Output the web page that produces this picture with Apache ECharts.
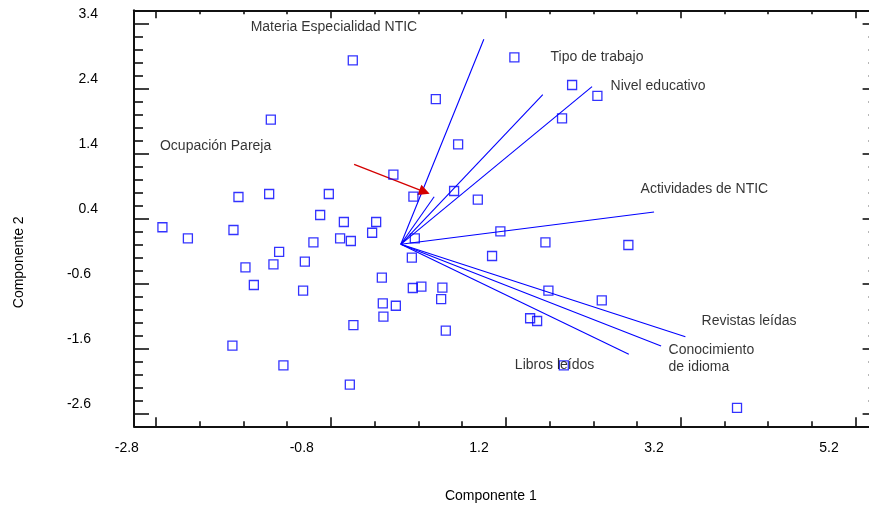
<!DOCTYPE html>
<html>
<head>
<meta charset="utf-8">
<script src="https://cdn.jsdelivr.net/npm/echarts@6/dist/echarts.min.js"></script>
<style>
  html, body { margin: 0; padding: 0; background: #ffffff; }
  #chart { width: 869px; height: 506px; }
</style>
</head>
<body>
<div id="chart"></div>
<script>
// Case scores on the first two principal components
const scoreX = [-0.549, 1.298, 1.958, 2.247, 0.400, -1.486, 1.843, 0.655, -0.085, -1.856,
  -1.505, -0.823, 0.144, 0.609, 0.880, -0.922, -0.651, -0.282, -2.725, -1.913,
  -2.434, -0.694, -0.571, -0.328, 0.160, 1.138, 1.653, 2.601, -0.999, -1.391,
  0.126, 1.043, -1.776, -1.456, -1.097, -0.217, -1.680, -1.117, 0.137, 0.235,
  0.475, 0.461, -0.057, -0.206, -0.199, 1.687, 2.297, -0.542, 1.478, 1.558,
  0.514, -1.925, -1.342, 1.863, -0.583, 3.843];
const scoreY = [2.831, 2.877, 2.451, 2.282, 2.235, 1.917, 1.938, 1.538, 1.071, 0.728,
  0.774, 0.774, 0.732, 0.820, 0.686, 0.451, 0.343, 0.343, 0.262, 0.220,
  0.092, 0.092, 0.051, 0.178, 0.092, 0.200, 0.031, -0.011, 0.031, -0.118,
  -0.206, -0.180, -0.354, -0.308, -0.268, -0.514, -0.626, -0.714, -0.672, -0.652,
  -0.668, -0.842, -0.945, -0.908, -1.114, -0.714, -0.862, -1.242, -1.138, -1.180,
  -1.329, -1.560, -1.862, -1.862, -2.160, -2.518];

// Variables and the tips of their loading vectors
const varNames = ['Materia Especialidad NTIC', 'Tipo de trabajo', 'Nivel educativo',
  'Ocupación Pareja', 'Actividades de NTIC', 'Revistas leídas',
  'Conocimiento\nde idioma', 'Libros leídos'];
const loadX = [0.949, 1.623, 2.186, 0.381, 2.895, 3.253, 2.975, 2.606];
const loadY = [3.154, 2.302, 2.425, 0.732, 0.497, -1.422, -1.565, -1.692];

// Axis tick values
const xTicks = [-2.8, -0.8, 1.2, 3.2, 5.2];
const yTicks = [-2.6, -1.6, -0.6, 0.4, 1.4, 2.4, 3.4];

// Highlight arrow pointing at the short vector
const arrowFrom = [-0.534, 1.231];
const arrowTo = [0.271, 0.808];

// Where each variable name is written (left / middle of the text)
const labelAnchor = [[-1.722, 3.343], [1.706, 2.886], [2.392, 2.435], [-2.759, 1.517],
  [2.735, 0.846], [3.432, -1.175], [3.055, -1.754], [1.298, -1.857]];

const X_MIN = -3.05, X_MAX = 5.45;
const Y_MIN = -2.8, Y_MAX = 3.6;
const INK = '#111111';
const TEXT = '#000000';
const FONT = "'Liberation Sans', Arial, sans-serif";

function minorValues(majors, step, min, max) {
  const out = [];
  const start = majors[0];
  let k = -Math.floor((start - min) / step) - 1;
  for (;; k++) {
    const v = +(start + k * step).toFixed(4);
    if (v > max) break;
    if (v <= min + 1e-6 || v >= max - 1e-6) continue;
    if (majors.some(m => Math.abs(m - v) < 1e-6)) continue;
    out.push(v);
  }
  return out;
}
const xMinor = minorValues(xTicks, 0.5, X_MIN, X_MAX);
const yMinor = minorValues(yTicks, 0.2, Y_MIN, Y_MAX);

function fmt(v) { return v.toFixed(1); }

function xAx(position, ticks, len, showLine, extra) {
  return Object.assign({
    type: 'value', position: position, min: X_MIN, max: X_MAX,
    splitLine: { show: false },
    axisLine: { show: showLine, onZero: false, lineStyle: { color: INK, width: 2 } },
    axisTick: { show: true, inside: true, length: len, customValues: ticks,
      lineStyle: { color: INK, width: 1.6 } },
    axisLabel: { show: false }
  }, extra || {});
}
function yAx(position, ticks, len, showLine, extra) {
  return Object.assign({
    type: 'value', position: position, min: Y_MIN, max: Y_MAX,
    splitLine: { show: false },
    axisLine: { show: showLine, onZero: false, lineStyle: { color: INK, width: 2 } },
    axisTick: { show: true, inside: true, length: len, customValues: ticks,
      lineStyle: { color: INK, width: 1.6 } },
    axisLabel: { show: false }
  }, extra || {});
}

const chart = echarts.init(document.getElementById('chart'), null, { renderer: 'canvas' });

const option = {
  animation: false,
  backgroundColor: '#ffffff',
  textStyle: { fontFamily: FONT },
  grid: { left: 134, top: 10.3, right: -8.6, bottom: 79.7, containLabel: false, outerBoundsMode: 'none' },
  xAxis: [
    xAx('bottom', xTicks, 9, true, {
      name: 'Componente 1', nameLocation: 'middle', nameGap: 63,
      nameTextStyle: { color: TEXT, fontSize: 14, fontFamily: FONT, padding: [0, 30, 0, 0] },
      axisLabel: { show: true, customValues: xTicks, margin: 15, align: 'right',
        padding: [0, 17, 0, 0], color: TEXT, fontSize: 14, fontFamily: FONT, formatter: fmt }
    }),
    xAx('bottom', xMinor, 5, false),
    xAx('top', xTicks, 8, true),
    xAx('top', xMinor, 4, false)
  ],
  yAxis: [
    yAx('left', yTicks, 15, true, {
      name: 'Componente 2', nameLocation: 'middle', nameGap: 108, nameRotate: 90,
      nameTextStyle: { color: TEXT, fontSize: 14, fontFamily: FONT, padding: [0, 88, 0, 0] },
      axisLabel: { show: true, customValues: yTicks, margin: 36, color: TEXT,
        fontSize: 14, fontFamily: FONT,
        formatter: v => (v < 0 ? '{n|' : '{p|') + fmt(v) + '}',
        rich: {
          p: { padding: [0, 0, 19, 0], color: TEXT, fontSize: 14, fontFamily: FONT },
          n: { padding: [0, 7, 19, 0], color: TEXT, fontSize: 14, fontFamily: FONT }
        }
      }
    }),
    yAx('left', yMinor, 9, false),
    yAx('right', yTicks, 15, true),
    yAx('right', yMinor, 9, false)
  ],
  series: [
    {
      name: 'vectors', type: 'lines', coordinateSystem: 'cartesian2d',
      xAxisIndex: 0, yAxisIndex: 0, silent: true,
      symbol: 'none',
      lineStyle: { color: '#0000ff', width: 1.1, opacity: 1 },
      data: varNames.map((n, i) => ({ name: n, coords: [[0, 0], [loadX[i], loadY[i]]] }))
    },
    {
      name: 'arrow', type: 'lines', coordinateSystem: 'cartesian2d',
      xAxisIndex: 0, yAxisIndex: 0, silent: true,
      symbol: ['none', 'triangle'], symbolSize: 11,
      lineStyle: { color: '#d40000', width: 1.3, opacity: 1 },
      itemStyle: { color: '#d40000' },
      data: [{ coords: [arrowFrom, arrowTo] }]
    },
    {
      name: 'scores', type: 'scatter', xAxisIndex: 0, yAxisIndex: 0,
      symbol: 'rect', symbolSize: 9,
      itemStyle: { color: 'rgba(0,0,0,0)', borderColor: '#0000ff', borderWidth: 1.3 },
      data: scoreX.map((x, i) => [x, scoreY[i]])
    },
    {
      name: 'varLabels', type: 'scatter', xAxisIndex: 0, yAxisIndex: 0, silent: true,
      symbolSize: 1, itemStyle: { color: 'rgba(0,0,0,0)' },
      label: {
        show: true, position: 'right', distance: 0, align: 'left', verticalAlign: 'middle',
        color: TEXT, fontSize: 14, fontFamily: FONT, lineHeight: 17,
        formatter: p => p.name
      },
      data: varNames.map((n, i) => ({ name: n, value: labelAnchor[i] }))
    }
  ]
};

chart.setOption(option);
</script>
</body>
</html>
